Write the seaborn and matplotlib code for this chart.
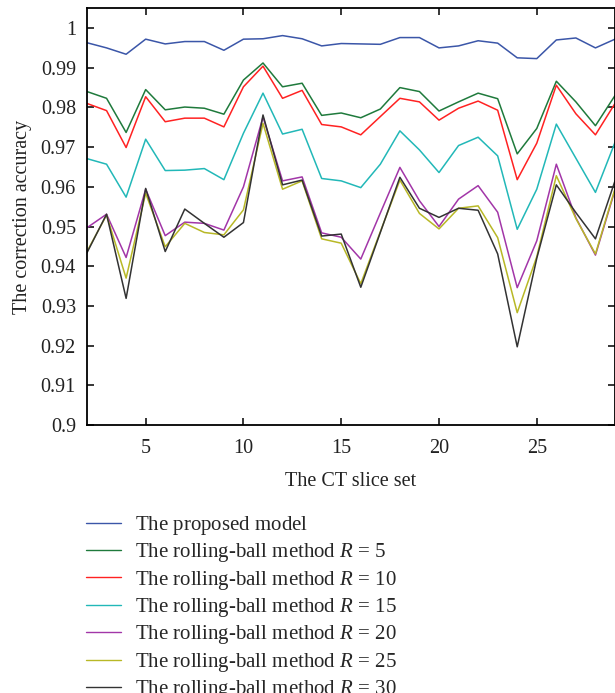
import numpy as np
import pandas as pd
import matplotlib
matplotlib.use("Agg")
import matplotlib.pyplot as plt
import seaborn as sns

# ── Data ─────────────────────────────────────────────────────────────────────

SLICES = list(range(2, 30))

PROPOSED = [0.9963, 0.9950, 0.9934, 0.9972, 0.9960, 0.9966, 0.9966, 0.9944,
            0.9972, 0.9973, 0.9981, 0.9973, 0.9955, 0.9961, 0.9960, 0.9959,
            0.9976, 0.9976, 0.9950, 0.9955, 0.9968, 0.9962, 0.9925, 0.9923,
            0.9970, 0.9975, 0.9950, 0.9972]
R5 = [0.9840, 0.9823, 0.9737, 0.9845, 0.9794, 0.9801, 0.9798, 0.9783,
      0.9869, 0.9912, 0.9852, 0.9861, 0.9780, 0.9786, 0.9774, 0.9796,
      0.9850, 0.9840, 0.9791, 0.9814, 0.9836, 0.9822, 0.9683, 0.9747,
      0.9866, 0.9814, 0.9754, 0.9830]
R10 = [0.9810, 0.9792, 0.9699, 0.9827, 0.9764, 0.9773, 0.9773, 0.9751,
       0.9852, 0.9904, 0.9823, 0.9843, 0.9757, 0.9751, 0.9731, 0.9777,
       0.9823, 0.9814, 0.9768, 0.9798, 0.9816, 0.9793, 0.9618, 0.9710,
       0.9856, 0.9784, 0.9731, 0.9810]
R15 = [0.9671, 0.9657, 0.9574, 0.9720, 0.9641, 0.9642, 0.9646, 0.9618,
       0.9735, 0.9836, 0.9733, 0.9745, 0.9621, 0.9615, 0.9598, 0.9657,
       0.9741, 0.9693, 0.9636, 0.9704, 0.9725, 0.9678, 0.9493, 0.9594,
       0.9758, 0.9672, 0.9586, 0.9712]
R20 = [0.9497, 0.9531, 0.9422, 0.9594, 0.9477, 0.9511, 0.9508, 0.9491,
       0.9600, 0.9776, 0.9615, 0.9625, 0.9484, 0.9473, 0.9418, 0.9534,
       0.9649, 0.9565, 0.9500, 0.9569, 0.9603, 0.9536, 0.9346, 0.9464,
       0.9657, 0.9522, 0.9428, 0.9592]
R25 = [0.9437, 0.9529, 0.9370, 0.9584, 0.9449, 0.9508, 0.9485, 0.9479,
       0.9542, 0.9760, 0.9594, 0.9615, 0.9469, 0.9458, 0.9356, 0.9487,
       0.9617, 0.9533, 0.9494, 0.9546, 0.9552, 0.9472, 0.9283, 0.9424,
       0.9628, 0.9520, 0.9431, 0.9595]
R30 = [0.9434, 0.9531, 0.9319, 0.9596, 0.9437, 0.9544, 0.9508, 0.9473,
       0.9510, 0.9781, 0.9605, 0.9617, 0.9476, 0.9481, 0.9347, 0.9485,
       0.9624, 0.9546, 0.9523, 0.9546, 0.9541, 0.9431, 0.9197, 0.9420,
       0.9605, 0.9535, 0.9469, 0.9615]

LABELS = [
    "The proposed $\\mathregular{model}$",
    "The rolling-ball method $R$ = 5",
    "The rolling-ball method $R$ = 10",
    "The rolling-ball method $R$ = 15",
    "The rolling-ball method $R$ = 20",
    "The rolling-ball method $R$ = 25",
    "The rolling-ball method $R$ = 30",
]
SERIES = [PROPOSED, R5, R10, R15, R20, R25, R30]
COLORS = ["#3b56a8", "#1f7a3c", "#ff2222", "#22b8b8",
          "#a236a8", "#b8b826", "#333333"]

Y_TICKS = [0.9, 0.91, 0.92, 0.93, 0.94, 0.95, 0.96, 0.97, 0.98, 0.99, 1.0]
Y_TICK_LABELS = ["0.9", "0.91", "0.92", "0.93", "0.94", "0.95", "0.96",
                 "0.97", "0.98", "0.99", "1"]
X_TICKS = [5, 10, 15, 20, 25]

# ── Style ─────────────────────────────────────────────────────────────────────

sns.set_style("ticks")
plt.rcParams["font.family"] = ["Liberation Serif", "DejaVu Serif"]
plt.rcParams["mathtext.fontset"] = "custom"
plt.rcParams["mathtext.rm"] = "Liberation Serif"
plt.rcParams["mathtext.it"] = "Liberation Serif:italic"
FS = 14.5
LEGEND_FS = 15

# ── Plot ──────────────────────────────────────────────────────────────────────

frames = [pd.DataFrame({"slice": SLICES, "accuracy": vals, "method": lab})
          for lab, vals in zip(LABELS, SERIES)]
df = pd.concat(frames, ignore_index=True)

fig = plt.figure(figsize=(6.15, 6.93), dpi=100)
ax = fig.add_axes([87 / 615, 1 - 425 / 693, 1 - 87 / 615, 417 / 693])

sns.lineplot(data=df, x="slice", y="accuracy", hue="method",
             hue_order=LABELS, palette=COLORS, linewidth=1.1, ax=ax)

ax.set_xlim(2, 29)
ax.set_ylim(0.9, 1.00505)
ax.set_xticks(X_TICKS)
ax.set_xticklabels([str(t) for t in X_TICKS])
ax.set_yticks(Y_TICKS)
ax.set_yticklabels(Y_TICK_LABELS)
ax.tick_params(direction="in", top=True, right=True, length=5, width=1.1,
               labelsize=FS, pad=8, color="black", labelcolor="#222222")
ax.tick_params(axis="x", pad=10)
for spine in ax.spines.values():
    spine.set_linewidth(1.3)
    spine.set_color("black")

ax.set_xlabel("The CT slice set", fontsize=FS, color="#222222", labelpad=10)
ax.set_ylabel("The correction accuracy", fontsize=FS, color="#222222",
              labelpad=6)

ax.legend(loc="upper left", bbox_to_anchor=(86 / 615, 1 - 514 / 693),
          bbox_transform=fig.transFigure, frameon=False, fontsize=LEGEND_FS,
          handlelength=1.7, handletextpad=0.65, labelspacing=0.21,
          borderpad=0, borderaxespad=0)
for line in ax.get_legend().get_lines():
    line.set_linewidth(1.0)

fig.savefig("out.png", dpi=100)
